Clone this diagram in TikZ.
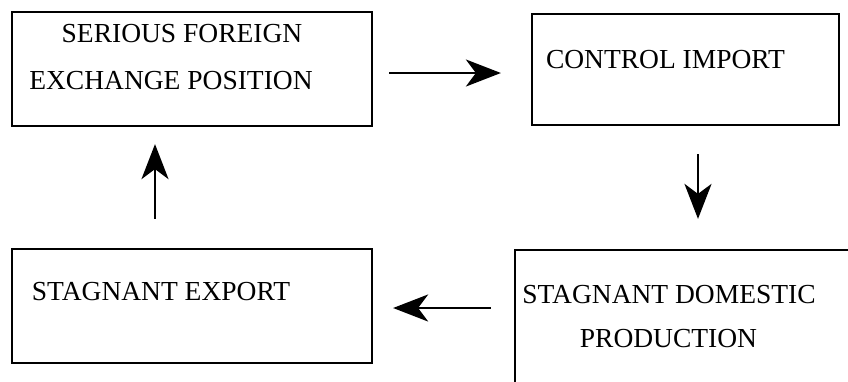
\documentclass[tikz,border=0pt]{standalone}
\usepackage{fontspec}
\setmainfont{Liberation Serif}
\usetikzlibrary{arrows.meta}

\begin{document}
\begin{tikzpicture}[x=1pt,y=-1pt,
  box/.style={draw, line width=2.2pt, rectangle, inner sep=0pt},
  lbl/.style={anchor=base, inner sep=0pt, font=\fontsize{27.5}{32}\selectfont},
  flow/.style={line width=2.6pt, -{Stealth[length=35pt, width=27pt, inset=10pt]}}]
  \useasboundingbox (0,0) rectangle (848,381);
  \clip (0,0) rectangle (848,381);

  % boxes (corner positions)
  \node[box, minimum width=360pt, minimum height=114pt] (A) at (192,69) {};
  \node[box, minimum width=307pt, minimum height=111pt] (B) at (685.5,69.5) {};
  \node[box, minimum width=360pt, minimum height=114pt] (C) at (192,306) {};
  \node[box, minimum width=360pt, minimum height=160pt] (D) at (695,330) {};

  % labels
  \node[lbl] (a1) at (182,42) {SERIOUS FOREIGN};
  \node[lbl] (a2) at (171,89) {EXCHANGE POSITION};
  \node[lbl] (b1) at (665.5,68) {CONTROL IMPORT};
  \node[lbl] (c1) at (161,300) {STAGNANT EXPORT};
  \node[lbl] (d1) at (669,303) {STAGNANT DOMESTIC};
  \node[lbl] (d2) at (668.5,347) {PRODUCTION};

  % cycle of arrows
  \draw[flow, shorten <=16pt, shorten >=30pt]
    ([yshift=-4pt]A.east) -- ([yshift=-4pt]A.east -| B.west);
  \draw[flow, shorten <=28pt, shorten >=30pt]
    ([xshift=12.5pt]B.south) -- ([xshift=12.5pt]B.south |- D.north);
  \draw[flow, shorten <=23pt, shorten >=20pt]
    ([yshift=22pt]D.west) -- ([yshift=22pt]D.west -| C.east);
  \draw[flow, shorten <=29pt, shorten >=17pt]
    ([xshift=-37pt]C.north) -- ([xshift=-37pt]C.north |- A.south);
\end{tikzpicture}
\end{document}
